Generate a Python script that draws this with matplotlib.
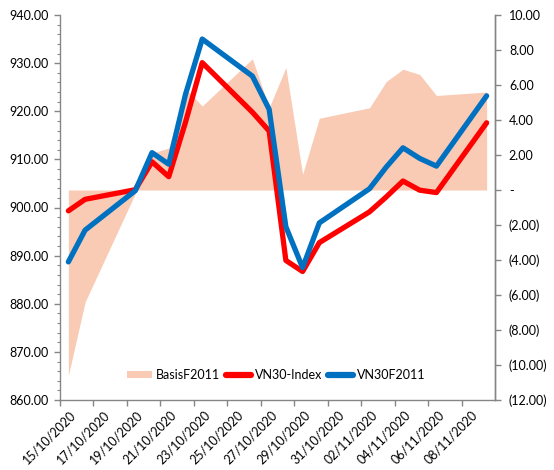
import matplotlib
matplotlib.use("Agg")
import matplotlib.pyplot as plt
import matplotlib.dates as mdates
import matplotlib.transforms as mtransforms
from matplotlib.ticker import MultipleLocator, FuncFormatter
from matplotlib.patches import Patch
from matplotlib.lines import Line2D
import pandas as pd

plt.rcParams["font.family"] = ["Lato", "DejaVu Sans"]

# trading days shown in the chart
dates = ["2020-10-15", "2020-10-16", "2020-10-19", "2020-10-20", "2020-10-21",
         "2020-10-22", "2020-10-23", "2020-10-26", "2020-10-27", "2020-10-28",
         "2020-10-29", "2020-10-30", "2020-11-02", "2020-11-03", "2020-11-04",
         "2020-11-05", "2020-11-06", "2020-11-09"]

vn30_index = [899.3, 901.7, 903.7, 909.5, 906.4, 917.7, 930.1, 919.8, 915.9,
              889.0, 886.7, 892.7, 899.1, 902.2, 905.5, 903.6, 903.1, 917.6]

vn30f2011 = [888.7, 895.3, 903.5, 911.4, 909.0, 923.5, 935.0, 927.3, 920.4,
             896.0, 887.5, 896.8, 903.9, 908.4, 912.4, 910.2, 908.6, 923.2]

basis_f2011 = [-10.6, -6.4, -0.2, 2.1, 2.4, 5.8, 4.8, 7.5, 4.7,
               7.0, 0.9, 4.1, 4.7, 6.2, 6.9, 6.6, 5.4, 5.6]

FILL = "#F9CBB5"
RED = "#FF0000"
BLUE = "#0070C0"
GREY = "#868686"

# Excel draws each point in the middle of its day
x = pd.to_datetime(dates) + pd.Timedelta(hours=12)

fig = plt.figure(figsize=(5.54, 4.70), dpi=100)
ax = fig.add_axes([60 / 554, 1 - 400 / 470, 435 / 554, 385 / 470])
ax2 = ax.twinx()

# basis area on the secondary axis, behind the price lines
ax2.fill_between(x, 0, basis_f2011, color=FILL, linewidth=0)
ax.set_zorder(ax2.get_zorder() + 1)
ax.patch.set_visible(False)

ax.plot(x, vn30_index, color=RED, linewidth=3.8, solid_joinstyle="round",
        solid_capstyle="round")
ax.plot(x, vn30f2011, color=BLUE, linewidth=3.8, solid_joinstyle="round",
        solid_capstyle="round")

ax.set_xlim(pd.Timestamp("2020-10-15"), pd.Timestamp("2020-11-10"))
ax.set_ylim(860, 940)
ax2.set_ylim(-12, 10)

ticks = pd.date_range("2020-10-15", "2020-11-08", freq="2D")
ax.set_xticks(ticks)
ax.xaxis.set_major_formatter(mdates.DateFormatter("%d/%m/%Y"))

ax.yaxis.set_major_locator(MultipleLocator(10))
ax.yaxis.set_minor_locator(MultipleLocator(2))
ax.yaxis.set_major_formatter(FuncFormatter(lambda v, p: f"{v:.2f}"))


def acct(v, p):
    if abs(v) < 1e-9:
        return "-"
    if v < 0:
        return f"({-v:.2f})"
    return f"{v:.2f}"


ax2.yaxis.set_major_locator(MultipleLocator(2))
ax2.yaxis.set_major_formatter(FuncFormatter(acct))

for a in (ax, ax2):
    a.spines["top"].set_visible(False)
    for s in ("left", "right", "bottom"):
        a.spines[s].set_color(GREY)
        a.spines[s].set_linewidth(1.0)
    a.tick_params(axis="both", which="both", color=GREY, labelsize=9,
                  labelcolor="#000000", direction="out")
    a.tick_params(axis="both", which="major", length=4, width=1)
    a.tick_params(axis="both", which="minor", length=2.5, width=0.8)
ax.tick_params(axis="x", pad=1, labelsize=9)
ax.tick_params(axis="y", pad=4)
ax2.tick_params(axis="y", pad=6)
ax2.spines["left"].set_visible(False)
ax2.spines["bottom"].set_visible(False)

handles = [Patch(facecolor=FILL, edgecolor="none", label="BasisF2011"),
           Line2D([0], [0], color=RED, linewidth=4.5, solid_capstyle="round",
                  label="VN30-Index"),
           Line2D([0], [0], color=BLUE, linewidth=4.5, solid_capstyle="round",
                  label="VN30F2011")]
ax.legend(handles=handles, loc="center", bbox_to_anchor=(0.497, 0.065),
          ncol=3, frameon=False, fontsize=9, handlelength=2.0,
          handleheight=0.55, handletextpad=0.3, columnspacing=0.5)

# rotated date labels, nudged like Excel's (end of text sits right of the tick)
fig.canvas.draw()
shift = mtransforms.ScaledTranslation(0.10, -0.02, fig.dpi_scale_trans)
for lbl in ax.get_xticklabels():
    lbl.set_rotation(45)
    lbl.set_ha("right")
    lbl.set_va("top")
    lbl.set_rotation_mode("anchor")
    lbl.set_transform(lbl.get_transform() + shift)

fig.savefig("out.png", dpi=100)
